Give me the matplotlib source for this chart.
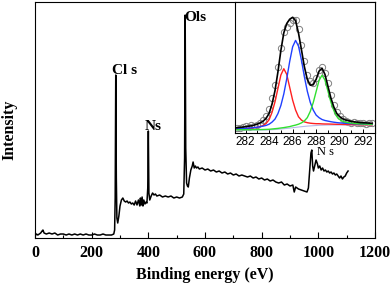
import matplotlib
matplotlib.use("Agg")
import matplotlib.pyplot as plt
from matplotlib.ticker import MultipleLocator

# survey spectrum (binding energy, intensity in arbitrary units)
survey_ev = [0, 5, 10, 15, 20, 25, 28, 32, 40, 50, 60, 70, 80, 90, 100, 110, 120, 130, 140, 150,
             160, 170, 180, 190, 200, 210, 220, 230, 240, 250, 260, 270, 278, 281, 283, 285, 287, 289,
             292, 296, 300, 305, 310, 315, 320, 325, 330, 335, 340, 345, 350, 355, 360, 365, 370, 372,
             375, 378, 381, 384, 388, 392, 395, 398, 400, 402, 405, 410, 415, 420, 425, 430, 440, 450,
             460, 470, 480, 490, 500, 510, 520, 525, 528, 530, 532, 535, 538, 541, 545, 550, 555, 558,
             562, 566, 570, 575, 580, 590, 600, 610, 620, 630, 640, 650, 660, 670, 680, 690, 700, 710,
             720, 730, 740, 750, 760, 770, 780, 790, 800, 810, 820, 830, 840, 850, 860, 870, 880, 890,
             900, 910, 915, 920, 930, 940, 950, 960, 965, 970, 974, 977, 980, 983, 987, 992, 997, 1000,
             1005, 1010, 1015, 1020, 1025, 1030, 1035, 1040, 1045, 1050, 1055, 1060, 1065, 1070, 1075,
             1080, 1085, 1090, 1095, 1100, 1105]
survey_int = [2, 4, 3, 4, 5, 7, 8, 5, 4, 5, 4, 5, 3, 4, 4, 3, 4, 3, 4, 3,
              4, 3, 4, 3, 3, 4, 3, 3, 4, 3, 3, 3, 4, 8, 40, 163, 60, 20,
              15, 22, 32, 38, 40, 37, 36, 37, 35, 36, 34, 35, 33, 37, 33, 38, 32, 40,
              33, 41, 32, 38, 34, 36, 35, 50, 107, 45, 38, 42, 45, 43, 44, 42, 43, 41,
              42, 41, 42, 40, 41, 40, 41, 44, 80, 223, 90, 55, 52, 51, 60, 68, 72, 76,
              70, 72, 70, 71, 69, 70, 68, 69, 67, 68, 66, 67, 65, 66, 64, 65, 63, 64,
              62, 63, 62, 61, 62, 60, 61, 59, 60, 58, 59, 57, 58, 56, 55, 56, 53, 54,
              52, 53, 46, 51, 49, 48, 47, 46, 50, 70, 85, 88, 72, 67, 72, 78, 74, 70,
              72, 68, 70, 67, 68, 66, 67, 65, 66, 64, 65, 63, 64, 62, 60,
              62, 59, 61, 62, 65, 67]

peak_labels = ["Cl s", "Ns", "Ols", "N s"]
peak_label_pos = [(272, 168), (388, 112), (526, 221), (994, 86)]

# C1s high resolution inset
c1s_ev = [281.25, 281.5, 281.75, 282.0, 282.25, 282.5, 282.75, 283.0, 283.25, 283.5, 283.75, 284.0,
          284.25, 284.5, 284.75, 285.0, 285.25, 285.5, 285.75, 286.0, 286.25, 286.5, 286.75, 287.0,
          287.25, 287.5, 287.75, 288.0, 288.25, 288.5, 288.75, 289.0, 289.25, 289.5, 289.75, 290.0,
          290.25, 290.5, 290.75, 291.0, 291.25, 291.5, 291.75, 292.0, 292.25, 292.5, 292.75]
c1s_raw = [4.5, 5.0, 5.5, 6.5, 6.0, 7.5, 7.0, 8.0, 9.5, 12.5, 17, 24, 35, 48, 66, 85, 101, 106, 110,
           113, 113, 104, 88, 72, 58, 52, 50, 55, 63, 66, 60, 50, 38, 28, 21, 17, 14, 12, 11, 10,
           10.5, 9.5, 10, 9.5, 9, 10, 9.5]
c1s_fit = [5.3, 5.6, 5.9, 6.3, 6.8, 7.2, 8.0, 8.9, 10.1, 11.9, 14.8, 19.6, 29.0, 42.3, 61.1, 82.5,
           100.2, 109.5, 113.8, 115.7, 112.3, 99.9, 83.3, 66.2, 53.6, 47.8, 48.2, 53.7, 61.9, 64.8,
           58.6, 46.9, 35.2, 26.1, 19.6, 16.3, 14.3, 13.0, 12.3, 11.6, 11.1, 10.8, 10.4, 10.2, 10.1,
           9.9, 9.7]
c1s_red = [3.9, 4.0, 4.1, 4.3, 4.6, 4.8, 5.2, 5.7, 6.4, 7.5, 9.6, 13.3, 20.7, 31.1, 44.5, 58.0, 64.3,
           58.6, 45.7, 32.9, 23.0, 16.2, 12.9, 11.1, 10.3, 9.8, 9.5, 9.3, 9.3, 9.1, 9.0, 9.0, 8.9,
           8.8, 8.7, 8.7, 8.6, 8.5, 8.5, 8.4, 8.4, 8.4, 8.3, 8.3, 8.3, 8.3, 8.3]
c1s_blue = [4.2, 4.3, 4.5, 4.7, 4.9, 5.1, 5.4, 5.8, 6.3, 6.9, 7.6, 8.8, 10.9, 13.9, 19.4, 27.5, 39.1,
            54.2, 71.5, 86.2, 92.6, 86.9, 72.9, 56.2, 41.7, 30.6, 23.0, 17.9, 15.3, 13.5, 12.5,
            11.9, 11.3, 10.8, 10.4, 10.1, 9.9, 9.7, 9.5, 9.3, 9.2, 9.1, 9.0, 8.9, 8.9, 8.8, 8.7]
c1s_green = [3.2, 3.3, 3.3, 3.3, 3.3, 3.3, 3.4, 3.4, 3.4, 3.5, 3.6, 3.7, 4.0, 4.3, 4.6, 5.0, 5.4,
             5.9, 6.4, 7.2, 7.9, 8.8, 10.1, 12.1, 15.4, 21.6, 30.3, 41.5, 52.7, 57.8, 52.9, 42.0,
             31.0, 22.5, 16.5, 13.5, 11.8, 10.8, 10.3, 9.9, 9.5, 9.3, 9.1, 9.0, 8.9, 8.8, 8.7]
c1s_bg = [3.0, 3.0, 3.0, 3.0, 3.0, 3.0, 3.0, 3.0, 3.0, 3.0, 3.0, 3.1, 3.3, 3.5, 3.7, 4.0, 4.3, 4.6,
          4.9, 5.3, 5.6, 6.0, 6.3, 6.6, 6.9, 7.1, 7.3, 7.5, 7.7, 7.8, 7.9, 8.0, 8.0, 8.0, 8.0, 8.0,
          8.0, 8.0, 8.0, 8.0, 8.0, 8.0, 8.0, 8.0, 8.0, 8.0, 8.0]

serif = "Liberation Serif"

fig = plt.figure(figsize=(3.92, 2.87), dpi=100)
ax = fig.add_axes([0.0893, 0.1707, 0.8673, 0.8223])
ax.plot(survey_ev, survey_int, color="black", lw=1.1)
ax.set_xlim(0, 1200)
ax.set_ylim(0, 236)
ax.set_yticks([])
ax.xaxis.set_major_locator(MultipleLocator(200))
ax.xaxis.set_minor_locator(MultipleLocator(100))
ax.tick_params(axis="x", which="major", direction="in", length=4, width=0.8, pad=5)
ax.tick_params(axis="x", which="minor", direction="in", length=2.5, width=0.8)
for lab in ax.get_xticklabels():
    lab.set_fontfamily(serif)
    lab.set_fontweight("bold")
    lab.set_fontsize(11.5)
ax.set_xlabel("Binding energy (eV)", family=serif, weight="bold", fontsize=11.5, labelpad=4)
ax.set_ylabel("Intensity", family=serif, weight="bold", fontsize=11.5)
ax.yaxis.set_label_coords(-0.052, 0.46)

for txt, (x, y) in zip(peak_labels, peak_label_pos):
    if txt == "N s":
        ax.text(x, y, txt, family=serif, fontsize=9, ha="left", va="center")
    else:
        ax.text(x, y, txt, family=serif, weight="bold", fontsize=11, ha="left", va="center")

ins = fig.add_axes([0.5995, 0.5366, 0.357, 0.4564])
ins.plot(c1s_ev, c1s_raw, "o", ms=4.5, mfc="none", mec="#808080", mew=0.7)
ins.plot(c1s_ev, c1s_bg, color="#b8b8e8", lw=0.8)
ins.plot(c1s_ev, c1s_red, color="#ff2020", lw=1)
ins.plot(c1s_ev, c1s_blue, color="#2040ff", lw=1)
ins.plot(c1s_ev, c1s_green, color="#30e030", lw=1)
ins.plot(c1s_ev, c1s_fit, color="black", lw=1.2)
ins.set_xlim(281.1, 293.0)
ins.set_ylim(0, 131)
ins.set_yticks([])
ins.set_xticks([282, 284, 286, 288, 290, 292])
ins.xaxis.set_minor_locator(MultipleLocator(1))
ins.tick_params(axis="x", which="major", direction="in", length=3, width=0.7, pad=2,
                labelsize=8.5)
ins.tick_params(axis="x", which="minor", direction="in", length=2, width=0.7)
for lab in ins.get_xticklabels():
    lab.set_fontfamily("Liberation Sans")
for s in ins.spines.values():
    s.set_linewidth(0.8)

fig.savefig("out.png", dpi=100)
